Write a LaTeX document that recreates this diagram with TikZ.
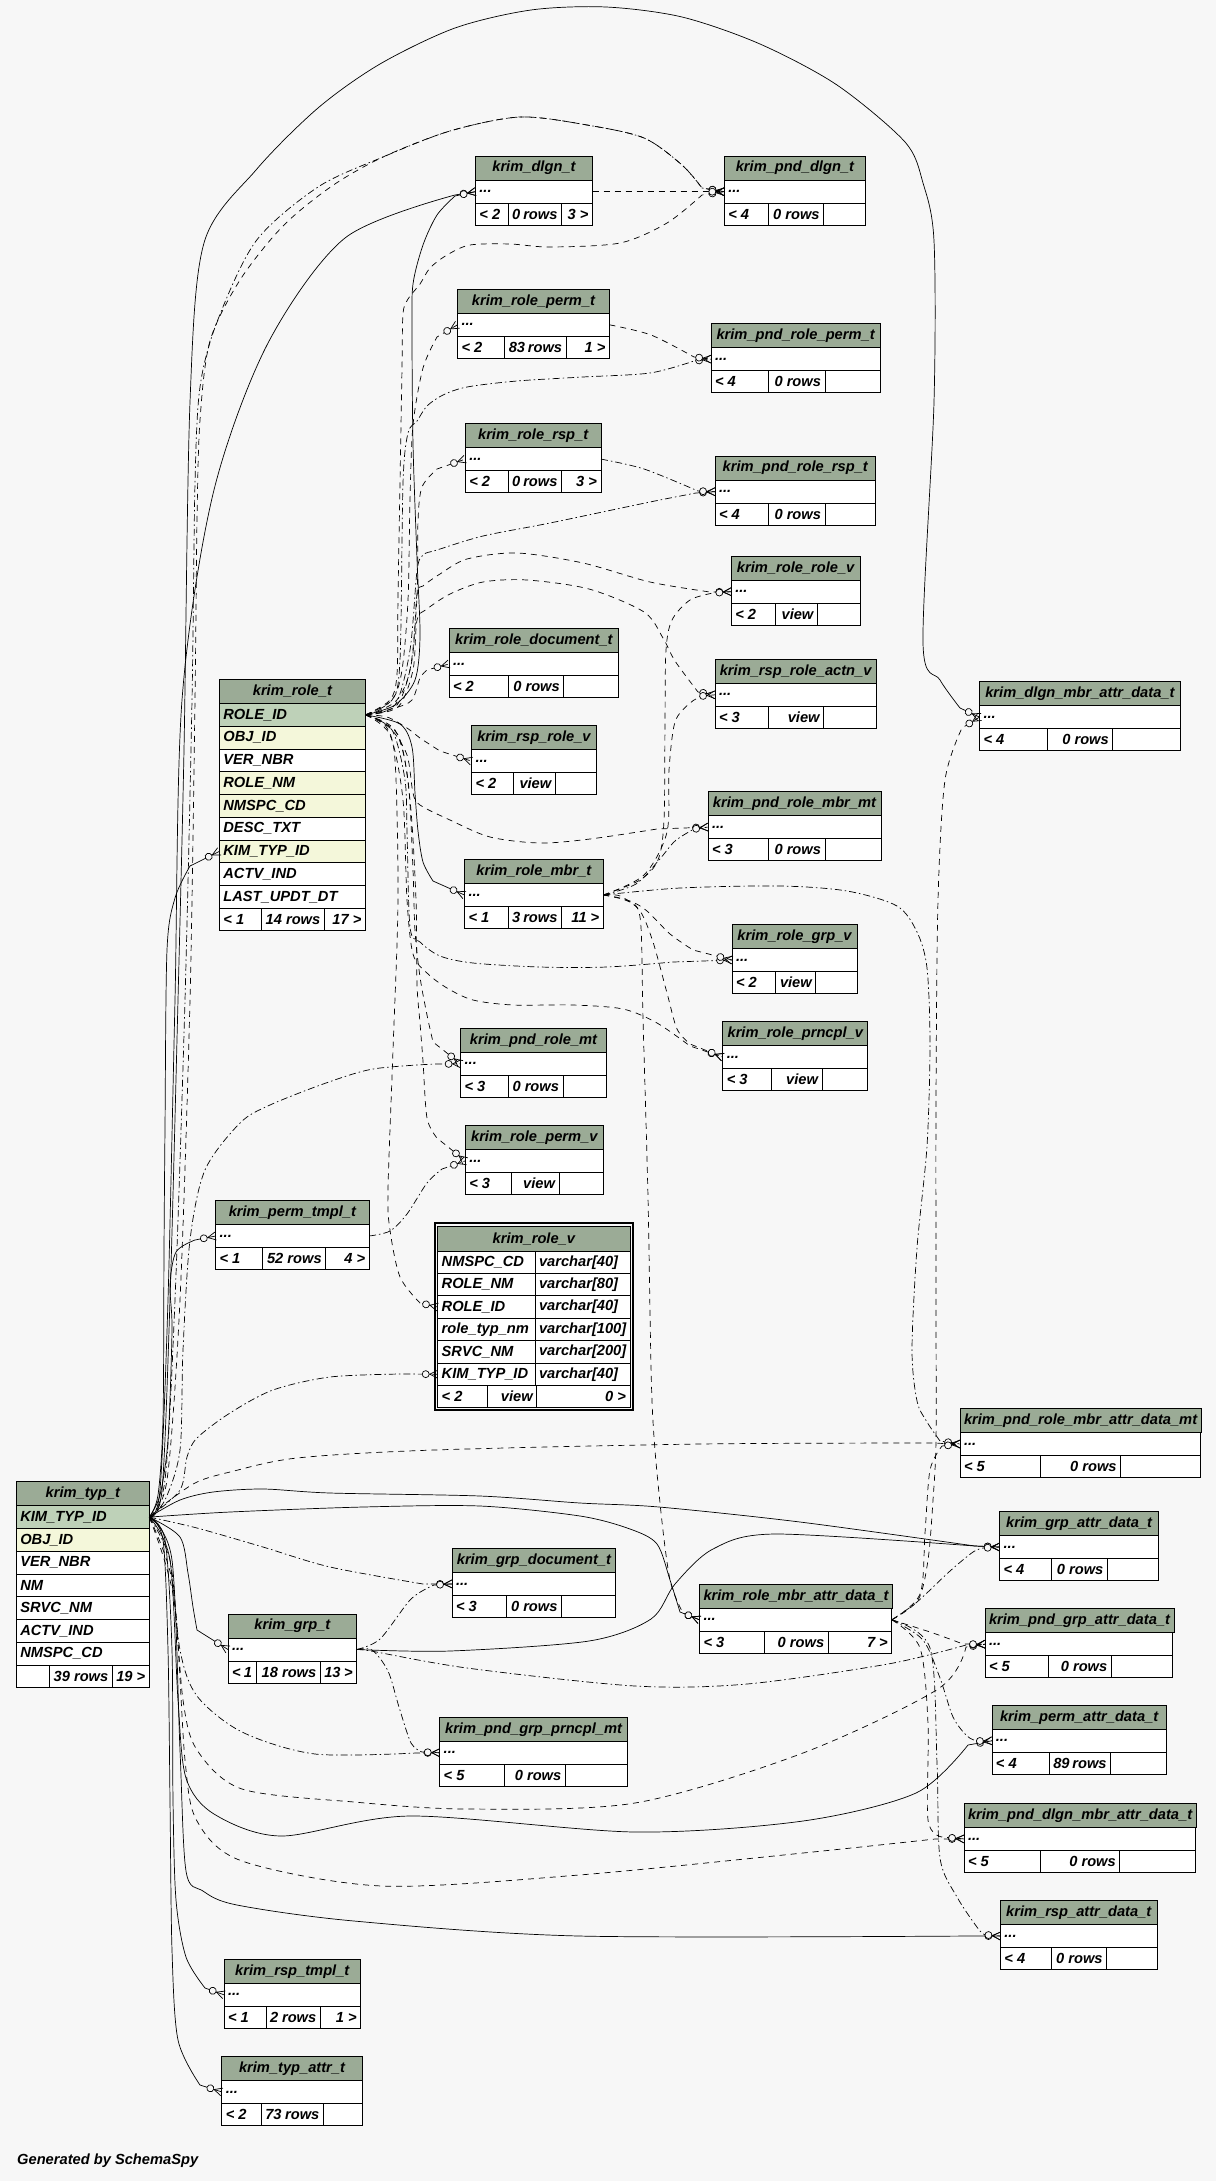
\documentclass[tikz,border=0pt]{standalone}
\usepackage{fontspec}
\setmainfont{Liberation Sans}
\usetikzlibrary{arrows.meta}

\definecolor{hdrc}{HTML}{9BAB96}
\definecolor{keyc}{HTML}{BED1B8}
\definecolor{idxc}{HTML}{F4F7DA}
\definecolor{bgc}{HTML}{F7F7F7}

\newcommand\tblfont{\fontsize{14.67}{16}\selectfont\bfseries\itshape}

\pgfdeclarearrow{
  name=crowodot,
  setup code={
    \pgfarrowssettipend{0pt}
    \pgfarrowssetlineend{0pt}
    \pgfarrowssetbackend{-16pt}
    \pgfarrowssetvisualbackend{-16pt}
  },
  drawing code={
    \pgfsetdash{}{0pt}
    \pgfpathmoveto{\pgfpoint{0pt}{4pt}}
    \pgfpathlineto{\pgfpoint{-8pt}{0pt}}
    \pgfpathlineto{\pgfpoint{0pt}{-4pt}}
    \pgfusepathqstroke
    \pgfpathcircle{\pgfpoint{-12pt}{0pt}}{3.5pt}
    \pgfsetfillcolor{bgc}
    \pgfusepathqfillstroke
  },
}

\tikzset{
  tblcell/.style={draw, line width=0.8pt, inner xsep=4pt, inner ysep=0pt, outer sep=0pt, anchor=north west, font=\tblfont},
  hdr/.style={tblcell, fill=hdrc, minimum height=24pt},
  rowcell/.style={tblcell, fill=white, minimum height=23pt},
  foot/.style={tblcell, fill=white, minimum height=22pt},
  colcell/.style={tblcell, minimum height=22.75pt},
  fk/.style={line width=0.7pt, -crowodot},
  impl/.style={fk, dash pattern=on 6pt off 5pt},
  impldot/.style={fk, dash pattern=on 7pt off 3pt on 1.5pt off 3pt},
}

% header and "..." row
\newcommand\tbl[5]{%
  \node[hdr, minimum width=#4pt] (#1-h) at (#2,#3) {#5};
  \node[rowcell, minimum width=#4pt] (#1) at (#1-h.south west) {\hbox to \dimexpr#4pt-8pt\relax{...\hfil}};
}
% footer: id, c1, left, c2, middle, c3, right
\newcommand\tblfoot[7]{%
  \node[foot, minimum width=#2pt] (#1-a) at (#1.south west) {\hbox to \dimexpr#2pt-8pt\relax{#3\hfil}};
  \node[foot, minimum width=#4pt] (#1-b) at (#1-a.north east) {\hbox to \dimexpr#4pt-8pt\relax{\hfil#5}};
  \node[foot, minimum width=#6pt] (#1-c) at (#1-b.north east) {\hbox to \dimexpr#6pt-8pt\relax{\hfil#7}};
}
% column row: fill, id, above, width, text
\newcommand\colrow[5]{%
  \node[colcell, fill=#1, minimum width=#4pt] (#2) at (#3.south west) {\hbox to \dimexpr#4pt-8pt\relax{#5\hfil}};
}
% view row: id, above, name, type
\newcommand\vrow[4]{%
  \node[colcell, fill=white, minimum height=22.4pt, minimum width=97.3pt] (#1) at (#2.south west) {\hbox to 89.3pt{#3\hfil}};
  \node[colcell, fill=white, minimum height=22.4pt, minimum width=95pt] (#1-t) at (#1.north east) {\hbox to 87pt{#4\hfil}};
}

\begin{document}
\begin{tikzpicture}[x=1pt,y=-1pt]
\fill[bgc] (0,0) rectangle (1216,2181);
\useasboundingbox (0,0) rectangle (1216,2181);

\tbl{dlgn}{475.4}{156.2}{117.1}{krim\_dlgn\_t}
\tblfoot{dlgn}{32.6}{< 2}{53.5}{0 rows}{31}{3 >}
\tbl{pnddlgn}{724.3}{156.2}{141.2}{krim\_pnd\_dlgn\_t}
\tblfoot{pnddlgn}{44.2}{< 4}{55.1}{0 rows}{41.9}{}
\tbl{roleperm}{457.5}{289.3}{152}{krim\_role\_perm\_t}
\tblfoot{roleperm}{47.3}{< 2}{61.2}{83 rows}{43.5}{1 >}
\tbl{pndroleperm}{711}{323.6}{169.2}{krim\_pnd\_role\_perm\_t}
\tblfoot{pndroleperm}{57.5}{< 4}{56.5}{0 rows}{55.2}{}
\tbl{rolersp}{465.3}{423.6}{135.7}{krim\_role\_rsp\_t}
\tblfoot{rolersp}{42.7}{< 2}{53.5}{0 rows}{39.5}{3 >}
\tbl{pndrolersp}{715}{456.2}{160.5}{krim\_pnd\_role\_rsp\_t}
\tblfoot{pndrolersp}{53.5}{< 4}{56.5}{0 rows}{50.5}{}
\tbl{rolerolev}{731.3}{556.2}{128.7}{krim\_role\_role\_v}
\tblfoot{rolerolev}{44.2}{< 2}{41.9}{view}{42.6}{}
\tbl{roledoc}{449}{628.5}{169.8}{krim\_role\_document\_t}
\tblfoot{roledoc}{59}{< 2}{55.8}{0 rows}{55}{}
\tbl{rsproleactnv}{715}{659.3}{161.3}{krim\_rsp\_role\_actn\_v}
\tblfoot{rsproleactnv}{53.5}{< 3}{55.1}{view}{52.7}{}
\tbl{dlgnmbr}{979.5}{681.6}{200.8}{krim\_dlgn\_mbr\_attr\_data\_t}
\tblfoot{dlgnmbr}{67.5}{< 4}{65.8}{0 rows}{67.5}{}
\tbl{rsprolev}{471.5}{725.6}{124.9}{krim\_rsp\_role\_v}
\tblfoot{rsprolev}{41.9}{< 2}{41.9}{view}{41.1}{}
\tbl{pndrolembrmt}{708}{791.6}{173}{krim\_pnd\_role\_mbr\_mt}
\tblfoot{pndrolembrmt}{60.5}{< 3}{56.5}{0 rows}{56}{}
\tbl{rolembr}{464.5}{859.5}{138.8}{krim\_role\_mbr\_t}
\tblfoot{rolembr}{43.5}{< 1}{53.5}{3 rows}{41.8}{11 >}
\tbl{rolegrpv}{732}{924.5}{125}{krim\_role\_grp\_v}
\tblfoot{rolegrpv}{43.5}{< 2}{40.3}{view}{41.2}{}
\tbl{roleprncplv}{722.8}{1021.6}{145}{krim\_role\_prncpl\_v}
\tblfoot{roleprncplv}{48.8}{< 3}{50.4}{view}{45.8}{}
\tbl{pndrolemt}{460.6}{1028.3}{145.8}{krim\_pnd\_role\_mt}
\tblfoot{pndrolemt}{47.4}{< 3}{55}{0 rows}{43.4}{}
\tbl{rolepermv}{465.3}{1125.4}{138}{krim\_role\_perm\_v}
\tblfoot{rolepermv}{46.5}{< 3}{47.2}{view}{44.3}{}
\tbl{perm}{215.6}{1200.5}{153.5}{krim\_perm\_tmpl\_t}
\tblfoot{perm}{46.4}{< 1}{63.7}{52 rows}{43.4}{4 >}
\tbl{pndrmad}{960}{1408.5}{240.5}{krim\_pnd\_role\_mbr\_attr\_data\_mt}
\tblfoot{pndrmad}{80}{< 5}{80.6}{0 rows}{79.9}{}
\tbl{grpattr}{999.6}{1511.5}{159}{krim\_grp\_attr\_data\_t}
\tblfoot{grpattr}{52}{< 4}{55.8}{0 rows}{51.2}{}
\tbl{grpdoc}{452}{1548.4}{163.8}{krim\_grp\_document\_t}
\tblfoot{grpdoc}{54.4}{< 3}{55.1}{0 rows}{54.3}{}
\tbl{rmad}{699.5}{1584.3}{192.3}{krim\_role\_mbr\_attr\_data\_t}
\tblfoot{rmad}{65.1}{< 3}{63.6}{0 rows}{63.6}{7 >}
\tbl{pndgrpattr}{985}{1608.7}{187.6}{krim\_pnd\_grp\_attr\_data\_t}
\tblfoot{pndgrpattr}{63.5}{< 5}{62.8}{0 rows}{61.3}{}
\tbl{grp}{228}{1614}{128.7}{krim\_grp\_t}
\tblfoot{grp}{28}{< 1}{64.3}{18 rows}{36.4}{13 >}
\tbl{pndgrpp}{439.7}{1717.2}{187.7}{krim\_pnd\_grp\_prncpl\_mt}
\tblfoot{pndgrpp}{64.3}{< 5}{61.3}{0 rows}{62.1}{}
\tbl{permattr}{991.9}{1705.3}{174.5}{krim\_perm\_attr\_data\_t}
\tblfoot{permattr}{57.4}{< 4}{61.2}{89 rows}{55.9}{}
\tbl{pnddlgnmbr}{964}{1803.4}{231}{krim\_pnd\_dlgn\_mbr\_attr\_data\_t}
\tblfoot{pnddlgnmbr}{76.7}{< 5}{79.1}{0 rows}{75.2}{}
\tbl{rspattr}{1000.4}{1900.5}{156.6}{krim\_rsp\_attr\_data\_t}
\tblfoot{rspattr}{51.2}{< 4}{55}{0 rows}{50.4}{}
\tbl{rsptmpl}{224}{1959.3}{136.6}{krim\_rsp\_tmpl\_t}
\tblfoot{rsptmpl}{42}{< 1}{54.3}{2 rows}{40.3}{1 >}
\tbl{typattr}{221.8}{2056.4}{140.4}{krim\_typ\_attr\_t}
\tblfoot{typattr}{39.5}{< 2}{62.1}{73 rows}{38.8}{}

\node[hdr, minimum width=146pt] (role-h) at (219.4,679.5) {krim\_role\_t};
\colrow{keyc}{role-id}{role-h}{146}{ROLE\_ID}
\colrow{idxc}{role-obj}{role-id}{146}{OBJ\_ID}
\colrow{white}{role-ver}{role-obj}{146}{VER\_NBR}
\colrow{idxc}{role-nm}{role-ver}{146}{ROLE\_NM}
\colrow{idxc}{role-ns}{role-nm}{146}{NMSPC\_CD}
\colrow{white}{role-desc}{role-ns}{146}{DESC\_TXT}
\colrow{idxc}{role-typ}{role-desc}{146}{KIM\_TYP\_ID}
\colrow{white}{role-actv}{role-typ}{146}{ACTV\_IND}
\colrow{white}{role}{role-actv}{146}{LAST\_UPDT\_DT}
\tblfoot{role}{42.3}{< 1}{62.6}{14 rows}{41.1}{17 >}

\node[hdr, minimum width=133pt] (typ-h) at (16.3,1481.7) {krim\_typ\_t};
\colrow{keyc}{typ-id}{typ-h}{133}{KIM\_TYP\_ID}
\colrow{idxc}{typ-obj}{typ-id}{133}{OBJ\_ID}
\colrow{white}{typ-ver}{typ-obj}{133}{VER\_NBR}
\colrow{white}{typ-nm}{typ-ver}{133}{NM}
\colrow{white}{typ-srvc}{typ-nm}{133}{SRVC\_NM}
\colrow{white}{typ-actv}{typ-srvc}{133}{ACTV\_IND}
\colrow{white}{typ}{typ-actv}{133}{NMSPC\_CD}
\tblfoot{typ}{33}{}{63}{39 rows}{37}{19 >}

\draw[line width=2pt] (435.2,1222.7) rectangle (632.5,1409.6);
\node[hdr, minimum width=192.3pt, minimum height=24.3pt] (rolev-h) at (437.7,1226.7) {krim\_role\_v};
\vrow{rolev-ns}{rolev-h}{NMSPC\_CD}{varchar[40]}
\vrow{rolev-nm}{rolev-ns}{ROLE\_NM}{varchar[80]}
\vrow{rolev-id}{rolev-nm}{ROLE\_ID}{varchar[40]}
\vrow{rolev-rt}{rolev-id}{role\_typ\_nm}{varchar[100]}
\vrow{rolev-srvc}{rolev-rt}{SRVC\_NM}{varchar[200]}
\vrow{rolev-typ}{rolev-srvc}{KIM\_TYP\_ID}{varchar[40]}
\node[coordinate] (rolev) at (rolev-typ.south west) {};
\tblfoot{rolev}{50}{< 2}{49}{view}{93.3}{0 >}

\node[anchor=west, inner sep=0pt, font=\tblfont] (gen) at (17,2161) {Generated by SchemaSpy};

% krim_typ_t
\draw[fk] plot[smooth] coordinates {(typ-id.east) (158,1495) (163,1420) (164,1250) (165,1128) (167,950) (175,898) (190,866)} -- (role-typ.west);
\draw[fk] plot[smooth] coordinates {(typ-id.east) (160,1495) (168,1440) (172,1330) (170,1285) (176,1252) (195,1240)} -- (perm.west);
\draw[fk] plot[smooth] coordinates {(typ-id.east) (180,1537) (188,1573) (193,1607) (197,1630)} -- (grp.west);
\draw[fk] plot[smooth] coordinates {(typ-id.east) (165,1540) (172,1650) (173,1800) (176,1900) (186,1957) (205,1988)} -- (rsptmpl.west);
\draw[fk] plot[smooth] coordinates {(typ-id.east) (163,1540) (168,1650) (170,1800) (172,1950) (178,2040) (200,2085)} -- (typattr.west);
\draw[fk] plot[smooth] coordinates {(typ-id.east) (160,1490) (168,1300) (175,1000) (182,700) (213,494) (267,345) (345,238) (455,195)} -- (dlgn.west);
\draw[fk] plot[smooth] coordinates {(typ-id.east) (162,1490) (170,1300) (178,1000) (184,750) (190,402) (204,243) (256,170) (318,108) (380,64) (455,28) (531,10) (606,7) (682,17) (760,44) (837,85) (905,142) (923,183) (934,241) (934,402) (923,643) (940,680) (960,708)} -- (dlgnmbr.west);
\draw[fk] plot[smooth] coordinates {(typ-id.east) (180,1500) (213,1492) (263,1489) (330,1493) (480,1496) (580,1503) (659,1507) (800,1522) (975,1546)} -- (grpattr.west);
\draw[fk] plot[smooth] coordinates {(typ-id.east) (230,1512) (363,1507) (480,1506) (580,1516) (630,1529) (657,1544) (670,1580) (680,1612)} -- (rmad.west);
\draw[fk] plot[smooth] coordinates {(typ-id.east) (170,1560) (178,1700) (186,1778) (214,1814) (281,1836) (410,1816) (635,1832) (803,1821) (916,1793) (968,1745)} -- (permattr.west);
\draw[fk] plot[smooth] coordinates {(typ-id.east) (172,1560) (180,1750) (186,1871) (203,1891) (237,1905) (354,1921) (579,1936) (970,1936)} -- (rspattr.west);
\draw[impldot] plot[smooth] coordinates {(typ-id.east) (165,1480) (175,1300) (185,1000) (192,700) (195,483) (200,387) (217,322) (256,241) (318,187) (383,157) (450,131) (520,117) (587,125) (644,138) (682,165) (702,188)} -- (pnddlgn.west);
\draw[impl] plot[smooth] coordinates {(typ-id.east) (167,1480) (180,1300) (190,1000) (195,700) (197,520) (200,420) (210,341) (240,280) (283,226) (332,186) (383,157) (450,131) (520,117) (587,125) (644,138) (682,165) (702,188)} -- (pnddlgn.west);
\draw[impldot] plot[smooth] coordinates {(typ-id.east) (165,1500) (180,1450) (183,1350) (190,1240) (205,1170) (240,1123) (270,1105) (326,1083) (373,1069) (434,1064)} -- (pndrolemt.west);
\draw[impldot] plot[smooth] coordinates {(typ-id.east) (180,1490) (187,1457) (197,1438) (230,1413) (273,1390) (330,1377) (400,1374)} -- (rolev-typ.west);
\draw[impl] plot[smooth] coordinates {(typ-id.east) (170,1500) (197,1482) (230,1472) (297,1458) (434,1450) (700,1444) (930,1443)} -- (pndrmad.west);
\draw[impldot] plot[smooth] coordinates {(typ-id.east) (197,1528) (263,1547) (330,1567) (423,1584)} -- (grpdoc.west);
\draw[impldot] plot[smooth] coordinates {(typ-id.east) (170,1560) (180,1650) (197,1696) (242,1732) (315,1754) (416,1753)} -- (pndgrpp.west);
\draw[impl] plot[smooth] coordinates {(typ-id.east) (172,1580) (183,1700) (197,1750) (242,1789) (354,1802) (467,1809) (635,1803) (803,1753) (938,1689) (966,1647)} -- (pndgrpattr.west);
\draw[impl] plot[smooth] coordinates {(typ-id.east) (174,1600) (185,1760) (197,1821) (242,1861) (382,1886) (579,1875) (803,1853) (935,1839)} -- (pnddlgnmbr.west);

% krim_role_t
\draw[fk] plot[smooth] coordinates {(role-id.east) (395,705) (415,680) (420,636) (417,559) (413,444) (412,330) (413,284) (423,245) (437,215) (455,196)} -- (dlgn.west);
\draw[impl] plot[smooth] coordinates {(role-id.east) (392,700) (402,670) (408,600) (410,500) (413,425) (423,368) (437,337)} -- (roleperm.west);
\draw[impl] plot[smooth] coordinates {(role-id.east) (395,702) (410,670) (417,597) (418,521) (422,487) (437,469)} -- (rolersp.west);
\draw[impl] plot[smooth] coordinates {(role-id.east) (395,708) (412,700) (420,678) (427,670)} -- (roledoc.west);
\draw[impl] plot[smooth] coordinates {(role-id.east) (387,717) (407,728) (420,738) (440,751)} -- (rsprolev.west);
\draw[fk] plot[smooth] coordinates {(role-id.east) (400,724) (412,747) (415,793) (418,831) (423,862) (433,881)} -- (rolembr.west);
\draw[impl] plot[smooth] coordinates {(role-id.east) (395,730) (408,780) (413,870) (415,931) (420,977) (427,1015) (433,1042)} -- (pndrolemt.west);
\draw[impl] plot[smooth] coordinates {(role-id.east) (398,735) (410,800) (416,900) (417,984) (420,1023) (423,1061) (427,1118) (437,1138)} -- (rolepermv.west);
\draw[impl] plot[smooth] coordinates {(role-id.east) (385,725) (395,760) (398,900) (393,1050) (388,1190) (390,1230) (400,1277) (420,1303)} -- (rolev-id.west);
\draw[impl] plot[smooth] coordinates {(role-id.east) (390,700) (397,674) (398,597) (400,483) (402,368) (403,314) (408,299) (420,284) (430,268) (447,255) (470,245) (510,244) (550,247) (620,243) (667,223) (702,195)} -- (pnddlgn.west);
\draw[impldot] plot[smooth] coordinates {(role-id.east) (392,700) (400,660) (403,483) (408,433) (417,421) (427,406) (443,395) (467,387) (517,381) (583,377) (650,373) (694,361)} -- (pndroleperm.west);
\draw[impldot] plot[smooth] coordinates {(role-id.east) (395,705) (410,650) (417,571) (423,555) (437,550) (483,536) (550,523) (650,502) (696,493)} -- (pndrolersp.west);
\draw[impl] plot[smooth] coordinates {(role-id.east) (397,705) (412,660) (417,594) (423,586) (440,574) (467,559) (517,553) (583,563) (650,582) (710,592)} -- (rolerolev.west);
\draw[impl] plot[smooth] coordinates {(role-id.east) (398,707) (413,670) (417,620) (427,609) (450,594) (483,582) (527,580) (589,589) (644,612) (663,638) (675,661) (698,692)} -- (rsproleactnv.west);
\draw[impl] plot[smooth] coordinates {(role-id.east) (390,728) (407,755) (413,793) (420,805) (450,820) (490,837) (540,843) (590,839) (657,829)} -- (pndrolembrmt.west);
\draw[impldot] plot[smooth] coordinates {(role-id.east) (392,730) (405,780) (407,831) (410,927) (420,942) (440,956) (473,963) (540,967) (607,967) (673,962)} -- (rolegrpv.west);
\draw[impl] plot[smooth] coordinates {(role-id.east) (390,735) (403,800) (407,900) (413,954) (427,973) (447,988) (473,1000) (513,1005) (573,1005) (623,1009) (657,1023) (690,1046)} -- (roleprncplv.west);

% pending and template tables
\draw[impl] (dlgn.east) -- (pnddlgn.west);
\draw[impl] plot[smooth] coordinates {(roleperm.east) (651,335) (694,357)} -- (pndroleperm.west);
\draw[impldot] plot[smooth] coordinates {(rolersp.east) (644,469) (698,491)} -- (pndrolersp.west);
\draw[impldot] plot[smooth] coordinates {(perm.east) (390,1231) (407,1214) (427,1183) (442,1169)} -- (rolepermv.west);

% krim_role_mbr_t
\draw[impl] plot[smooth] coordinates {(rolembr.east) (630,901) (647,911) (670,934) (693,950)} -- (rolegrpv.west);
\draw[impl] plot[smooth] coordinates {(rolembr.east) (620,896) (640,911) (653,942) (667,993) (677,1029) (690,1044)} -- (roleprncplv.west);
\draw[impl] plot[smooth] coordinates {(rolembr.east) (625,900) (640,917) (643,1019) (648,1197) (652,1401) (660,1503) (670,1580) (683,1613)} -- (rmad.west);
\draw[impldot] plot[smooth] coordinates {(rolembr.east) (680,888) (780,886) (847,891) (897,906) (917,932) (927,968) (930,1044) (927,1146) (917,1248) (912,1350) (917,1401) (927,1422) (940,1441)} -- (pndrmad.west);
\draw[impldot] plot[smooth] coordinates {(rolembr.east) (636,884) (659,860) (675,841) (694,829)} -- (pndrolembrmt.west);
\draw[impl] plot[smooth] coordinates {(rolembr.east) (640,880) (658,860) (664,820) (665,720) (666,650) (672,620) (690,600) (713,593)} -- (rolerolev.west);
\draw[impl] plot[smooth] coordinates {(rolembr.east) (644,875) (667,832) (669,770) (675,722) (690,703) (702,696)} -- (rsproleactnv.west);

% krim_grp_t
\draw[impldot] plot[smooth] coordinates {(grp.east) (380,1639) (411,1599) (434,1585)} -- (grpdoc.west);
\draw[impldot] plot[smooth] coordinates {(grp.east) (372,1650) (388,1671) (399,1707) (411,1743) (422,1752)} -- (pndgrpp.west);
\draw[fk] plot[smooth] coordinates {(grp.east) (450,1651) (589,1641) (651,1619) (675,1584) (713,1549) (775,1534) (975,1546)} -- (grpattr.west);
\draw[impldot] plot[smooth] coordinates {(grp.east) (371,1651) (467,1668) (635,1686) (747,1684) (888,1664) (966,1645)} -- (pndgrpattr.west);

% krim_role_mbr_attr_data_t
\draw[impl] plot[smooth] coordinates {(rmad.east) (918,1600) (928,1560) (933,1500) (936,1440) (936,1300) (936,1100) (938,900) (945,780) (962,728)} -- (dlgnmbr.west);
\draw[impl] plot[smooth] coordinates {(rmad.east) (920,1594) (925,1533) (930,1470) (942,1446)} -- (pndrmad.west);
\draw[impldot] plot[smooth] coordinates {(rmad.east) (917,1602) (950,1571) (973,1552) (983,1548)} -- (grpattr.west);
\draw[impl] plot[smooth] coordinates {(rmad.east) (933,1633) (963,1644)} -- (pndgrpattr.west);
\draw[impldot] plot[smooth] coordinates {(rmad.east) (923,1640) (940,1678) (953,1717) (967,1736) (977,1741)} -- (permattr.west);
\draw[impl] plot[smooth] coordinates {(rmad.east) (920,1648) (928,1724) (928,1820) (942,1837)} -- (pnddlgnmbr.west);
\draw[impldot] plot[smooth] coordinates {(rmad.east) (930,1648) (937,1763) (940,1858) (957,1897) (980,1931) (988,1935)} -- (rspattr.west);
\end{tikzpicture}
\end{document}
